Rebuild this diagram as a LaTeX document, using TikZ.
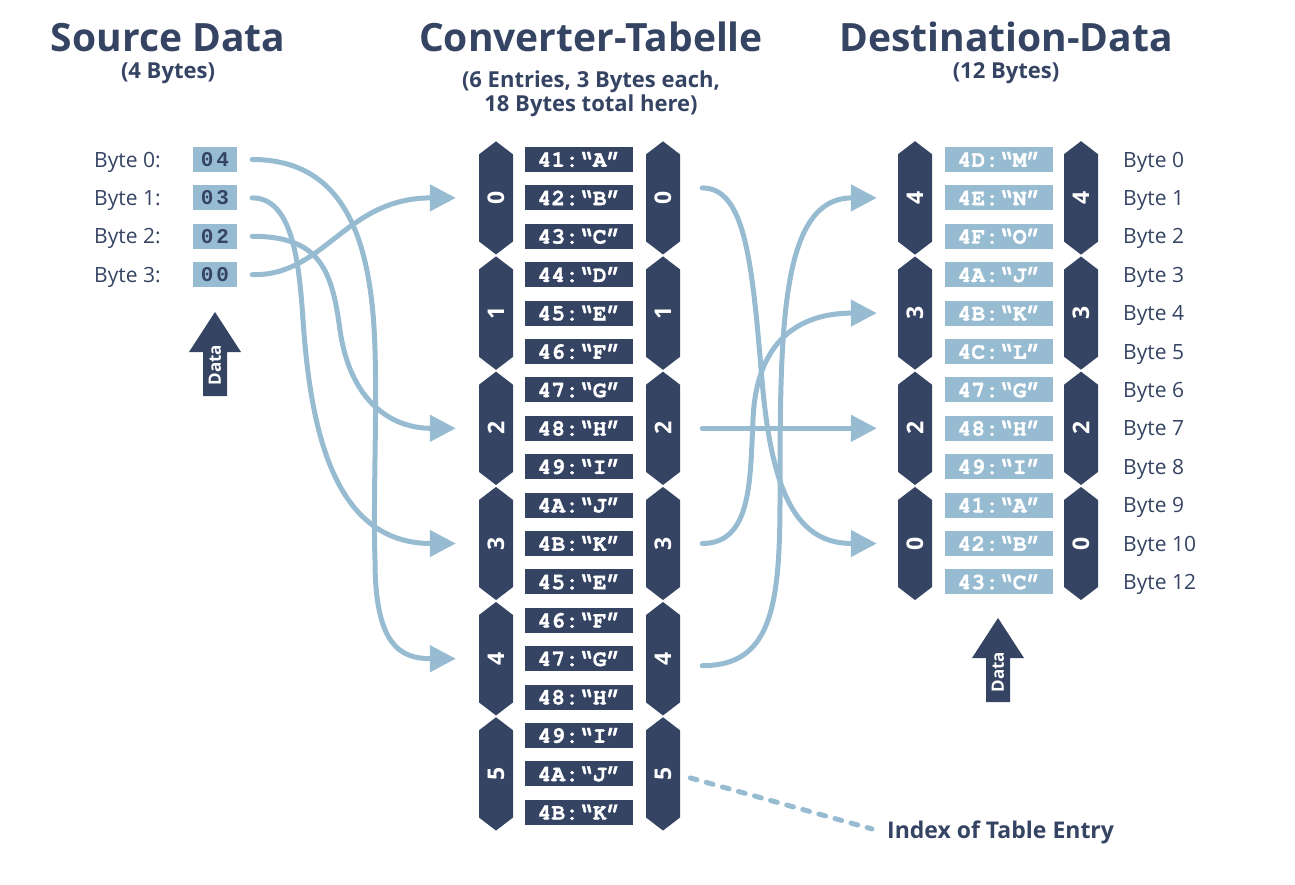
\documentclass[tikz,border=0pt]{standalone}
\usepackage{fontspec}
\usepackage{graphicx}
\setmainfont{Open Sans}
\newfontfamily\monofnt{Liberation Mono}
\newfontfamily\courfnt{TeX Gyre Cursor}[BoldFeatures={FakeBold=1.2}]
\usetikzlibrary{arrows.meta,shapes.symbols,calc}
\definecolor{navy}{RGB}{53,68,99}
\definecolor{lblue}{RGB}{151,188,210}
\begin{document}
\begin{tikzpicture}[x=1pt,y=-1pt,
  title/.style={font=\fontsize{39}{44}\selectfont\bfseries, text=navy, anchor=base, inner sep=0pt},
  sub/.style={font=\fontsize{22}{24}\selectfont\bfseries, text=navy, anchor=base, inner sep=0pt},
  bytelbl/.style={font=\fontsize{21}{24}\selectfont, text=navy, anchor=base west, inner sep=0pt},
  srcbox/.style={fill=lblue, minimum width=44pt, minimum height=25pt, inner sep=0pt, text=navy, font=\monofnt\bfseries\fontsize{21}{24}\selectfont},
  entry/.style={fill=navy, text=white, minimum width=108pt, minimum height=25pt, inner sep=0pt, font=\courfnt\bfseries\fontsize{23}{24}\selectfont},
  dentry/.style={entry, fill=lblue},
  hexn/.style={signal, signal to=north and south, signal pointer angle=105, fill=navy, text=white, minimum width=34pt, minimum height=100pt, inner sep=0pt, font=\fontsize{23}{24}\selectfont\bfseries},
  flow/.style={draw=lblue, line width=5pt, line cap=round, -{Triangle[length=26pt,width=26pt]}},
  dashln/.style={draw=lblue, line width=5pt, line cap=round, dash pattern=on 7pt off 9.7pt},
  datatxt/.style={font=\fontsize{17}{20}\selectfont\bfseries, text=white, rotate=90, inner sep=0pt}
]
\useasboundingbox (0,0) rectangle (1295,884);

% titles
\node[title] (t1) at (168,51) {Source Data};
\node[sub] (t1s) at (168,78) {(4 Bytes)};
\node[title] (t2) at (591,51) {Converter-Tabelle};
\node[sub] (t2s) at (591,87) {(6 Entries, 3 Bytes each,};
\node[sub] (t2t) at (591,111) {18 Bytes total here)};
\node[title] (t3) at (1006,51) {Destination-Data};
\node[sub] (t3s) at (1006,78) {(12 Bytes)};

% source data
\foreach \i/\v in {0/{0\kern3pt4},1/{0\kern3pt3},2/{0\kern3pt2},3/{0\kern3pt0}} {
  \node[bytelbl] (sl\i) at (94,{167+38.4*\i}) {Byte \i:};
  \node[srcbox] (s\i) at (215,{159.5+38.4*\i}) {\v};
}

% converter table
\foreach \i/\t in {0/{41:“A”},1/{42:“B”},2/{43:“C”},3/{44:“D”},4/{45:“E”},5/{46:“F”},
  6/{47:“G”},7/{48:“H”},8/{49:“I”},9/{4A:“J”},10/{4B:“K”},11/{45:“E”},
  12/{46:“F”},13/{47:“G”},14/{48:“H”},15/{49:“I”},16/{4A:“J”},17/{4B:“K”}} {
  \node[entry] (T\i) at (579,{159.5+38.4*\i}) {\t};
}
\foreach \g in {0,...,5} {
  \node[hexn] (L\g) at (496,{197.9+115.2*\g}) {\rotatebox{90}{\g}};
  \node[hexn] (R\g) at (663,{197.9+115.2*\g}) {\rotatebox{90}{\g}};
}

% destination
\foreach \i/\t/\b in {0/{4D:“M”}/Byte 0,1/{4E:“N”}/Byte 1,2/{4F:“O”}/Byte 2,
  3/{4A:“J”}/Byte 3,4/{4B:“K”}/Byte 4,5/{4C:“L”}/Byte 5,
  6/{47:“G”}/Byte 6,7/{48:“H”}/Byte 7,8/{49:“I”}/Byte 8,
  9/{41:“A”}/Byte 9,10/{42:“B”}/Byte 10,11/{43:“C”}/Byte 12} {
  \node[dentry] (E\i) at (999,{159.5+38.4*\i}) {\t};
  \node[bytelbl] (db\i) at (1123,{167+38.4*\i}) {\b};
}
\foreach \j/\g in {0/4,1/3,2/2,3/0} {
  \node[hexn] (DL\g) at (915,{197.9+115.2*\j}) {\rotatebox{90}{\g}};
  \node[hexn] (DR\g) at (1081,{197.9+115.2*\j}) {\rotatebox{90}{\g}};
}

% data arrows
\fill[navy] (203,396) -- (203,352) -- (189,352) -- (215,312) -- (241,352) -- (227,352) -- (227,396) -- cycle;
\node[datatxt] (da1) at (215,365) {Data};
\fill[navy] (986,702) -- (986,658) -- (972,658) -- (998,618) -- (1024,658) -- (1010,658) -- (1010,702) -- cycle;
\node[datatxt] (da2) at (998,672) {Data};

% flows source -> table
\draw[flow] ($(s0.east)+(15,0)$) .. controls (345,159.5) and (372,240) .. (375,350)
  .. controls (377,420) and (373,500) .. (375,560)
  .. controls (375,645) and (400,658.7) .. ($(L4.west)+(-23,0)$);
\draw[flow] ($(s1.east)+(15,0)$) .. controls (292,197.9) and (299,260) .. (303,320)
  .. controls (310,420) and (330,543.5) .. ($(L3.west)+(-23,0)$);
\draw[flow] ($(s2.east)+(15,0)$) .. controls (320,236.3) and (332,270) .. (340,330)
  .. controls (350,400) and (390,428.3) .. ($(L2.west)+(-23,0)$);
\draw[flow] ($(s3.east)+(15,0)$) .. controls (325,276) and (345,197.9) .. ($(L0.west)+(-23,0)$);

% flows table -> destination
\draw[flow] ($(R0.east)+(22,-10)$) .. controls (745,187.9) and (752,260) .. (762,380)
  .. controls (772,500) and (800,543.5) .. ($(DL0.west)+(-21,0)$);
\draw[flow] ($(R2.east)+(22,0)$) -- ($(DL2.west)+(-21,0)$);
\draw[flow] ($(R3.east)+(22,0)$) .. controls (752,543.5) and (750,480) .. (753,420)
  .. controls (756,340) and (800,313.1) .. ($(DL3.west)+(-21,0)$);
\draw[flow] ($(R4.east)+(22,7)$) .. controls (770,665.7) and (780,610) .. (780,500)
  .. controls (780,330) and (780,197.9) .. ($(DL4.west)+(-21,0)$);

% index label
\node[font=\fontsize{23}{26}\selectfont\bfseries, text=navy, anchor=base west, inner sep=0pt] (idx) at (887,838) {Index of Table Entry};
\draw[dashln] ($(R5.east)+(10,4)$) -- ($(idx.west)+(-15,-3)$);
\end{tikzpicture}
\end{document}
